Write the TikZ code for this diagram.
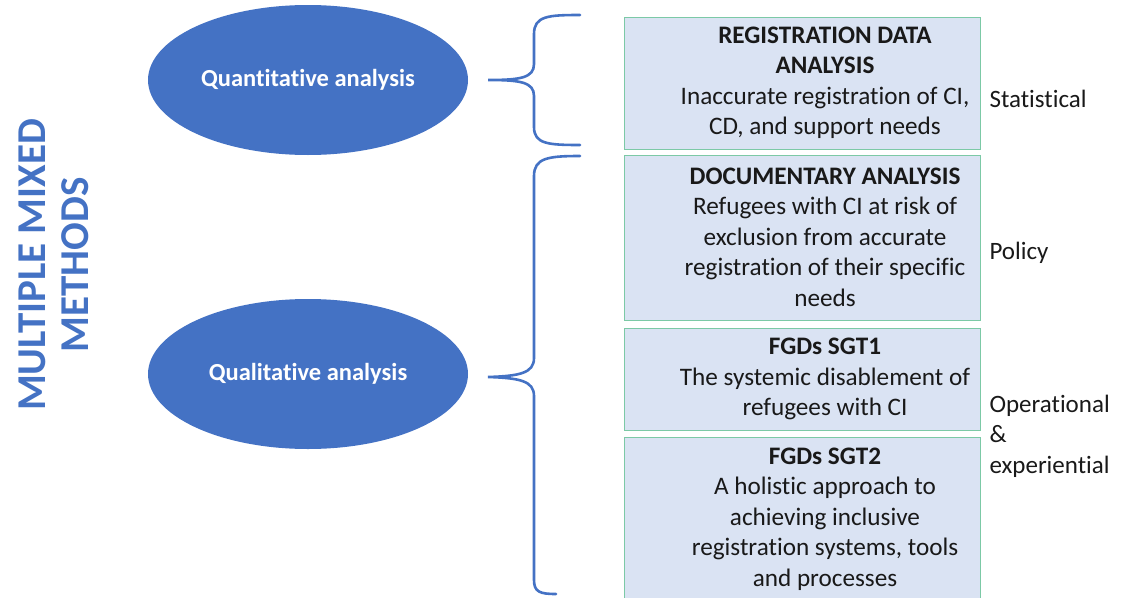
\documentclass[tikz,border=0pt]{standalone}
\usepackage{fontspec}
\setmainfont{Carlito}[Ligatures={NoCommon}]
\usetikzlibrary{shapes.geometric}
\definecolor{mblue}{HTML}{4472C4}
\definecolor{boxfill}{HTML}{DAE3F3}
\definecolor{boxline}{HTML}{7CC9A6}
\begin{document}
\begin{tikzpicture}[x=1pt,y=-1pt,
  method/.style={ellipse, fill=mblue, draw=none, minimum width=320pt, minimum height=150pt, text=white, font=\fontsize{24.5}{28}\selectfont\bfseries},
  stagebox/.style={draw=boxline, line width=1.4pt, fill=boxfill, anchor=north west, inner sep=0pt},
  boxtext/.style={align=center, font=\fontsize{25.2}{30.5}\selectfont, text=black!90},
  sidelabel/.style={anchor=west, align=left, font=\fontsize{25}{30.5}\selectfont, text=black!90},
  bracket/.style={draw=mblue, line width=2.6pt, line cap=round}]
\useasboundingbox (0,0) rectangle (1126,597);
\clip (0,0) rectangle (1126,597);

% vertical title
\node[rotate=90, align=center, text=mblue, font=\fontsize{41}{43}\selectfont\bfseries] (title) at (54,265) {MULTIPLE MIXED\\METHODS};

% the two analysis ellipses
\node[method] (quant) at (308,80) {Quantitative analysis};
\node[method] (qual) at (308,374) {Qualitative analysis};

% boxes
\node[stagebox, minimum width=356pt, minimum height=132pt] (b1) at (624,17) {};
\node[stagebox, minimum width=356pt, minimum height=165pt] (b2) at (624,155) {};
\node[stagebox, minimum width=356pt, minimum height=102pt] (b3) at (624,328) {};
\node[stagebox, minimum width=356pt, minimum height=180pt] (b4) at (624,437) {};

% box texts
\node[boxtext] (t1) at (825,83) {\textbf{REGISTRATION DATA}\\\textbf{ANALYSIS}\\Inaccurate registration of CI,\\CD, and support needs};
\node[boxtext] (t2) at (825,237) {\textbf{DOCUMENTARY ANALYSIS}\\Refugees with CI at risk of\\exclusion from accurate\\registration of their specific\\needs};
\node[boxtext] (t3) at (825,379) {\textbf{FGDs SGT1}\\The systemic disablement of\\refugees with CI};
\node[boxtext] (t4) at (825,519) {\textbf{FGDs SGT2}\\A holistic approach to\\achieving inclusive\\registration systems, tools\\and processes};

% side labels
\node[sidelabel] (s1) at (986,99) {Statistical};
\node[sidelabel] (s2) at (986,253) {Policy};
\node[sidelabel] (s3) at (986,436) {Operational\\\&\\experiential};

% curly brackets
\draw[bracket] (580,15) .. controls (548,15) and (534,16) .. (534,34)
  -- (534,64) .. controls (534,78) and (520,80) .. (488,80)
  .. controls (520,80) and (534,82) .. (534,96)
  -- (534,127) .. controls (534,144) and (548,145) .. (580,145);
\draw[bracket] (580,156) .. controls (548,156) and (534,158) .. (534,176)
  -- (534,358) .. controls (534,373) and (520,376) .. (488,377)
  .. controls (520,378) and (534,381) .. (534,396)
  -- (534,580) .. controls (534,592) and (540,594) .. (556,594);
\end{tikzpicture}
\end{document}
